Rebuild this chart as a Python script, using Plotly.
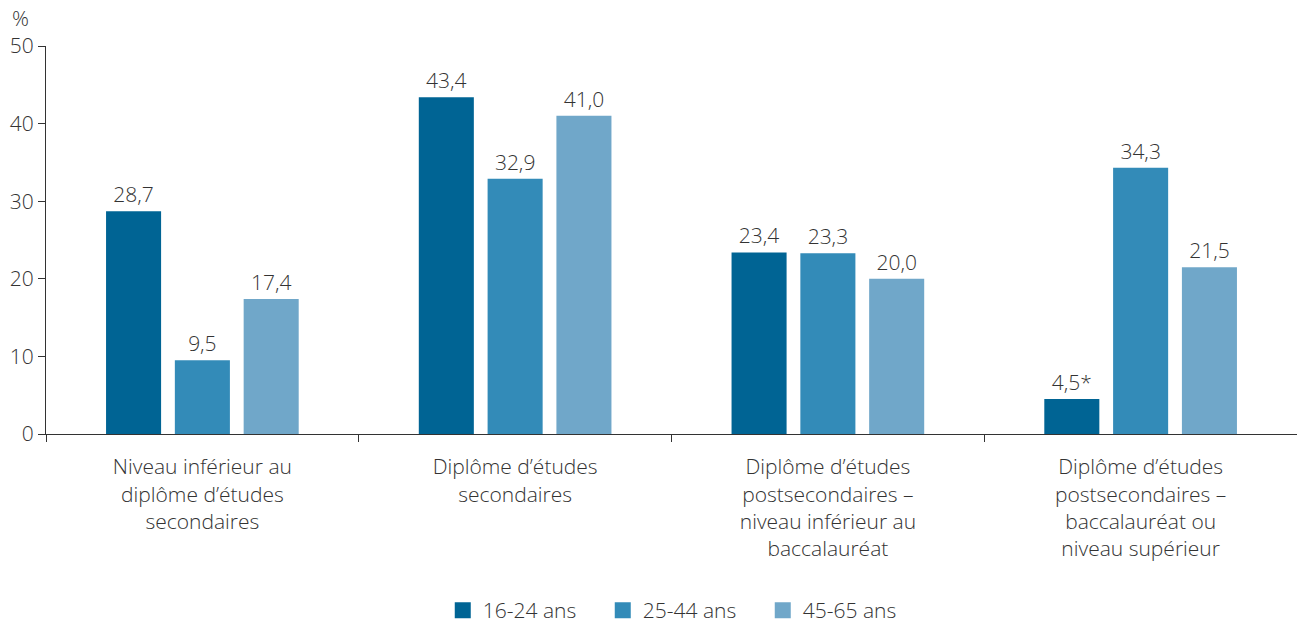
import plotly.graph_objects as go

categories = [
    "Niveau inférieur au<br>diplôme d’études<br>secondaires",
    "Diplôme d’études<br>secondaires",
    "Diplôme d’études<br>postsecondaires –<br>niveau inférieur au<br>baccalauréat",
    "Diplôme d’études<br>postsecondaires –<br>baccalauréat ou<br>niveau supérieur",
]
series_names = ["16-24 ans", "25-44 ans", "45-65 ans"]
values_16_24 = [28.7, 43.4, 23.4, 4.5]
values_25_44 = [9.5, 32.9, 23.3, 34.3]
values_45_65 = [17.4, 41.0, 20.0, 21.5]
labels_16_24 = ["28,7", "43,4", "23,4", "4,5*"]
labels_25_44 = ["9,5", "32,9", "23,3", "34,3"]
labels_45_65 = ["17,4", "41,0", "20,0", "21,5"]
colors = ["#006494", "#338bb8", "#70a7c9"]
y_ticks = [0, 10, 20, 30, 40, 50]

FONT = "Open Sans"
TXT = "#333333"
FS = 21

fig = go.Figure()
for name, vals, labs, col in zip(series_names,
                                 [values_16_24, values_25_44, values_45_65],
                                 [labels_16_24, labels_25_44, labels_45_65],
                                 colors):
    fig.add_trace(go.Bar(
        x=categories, y=vals, name=name, marker_color=col,
        marker_line_width=0, showlegend=False,
        text=labs, textposition="outside", cliponaxis=False,
        textfont=dict(family=FONT, size=FS, color=TXT, weight=300),
    ))
# legend entries with larger square symbols
for name, col in zip(series_names, colors):
    fig.add_trace(go.Scatter(
        x=[None], y=[None], mode="markers", name=name,
        marker=dict(symbol="square", size=16, color=col),
        showlegend=True,
    ))

fig.update_layout(
    width=1297, height=623,
    margin=dict(l=46, r=0, t=46, b=189, autoexpand=False),
    paper_bgcolor="white", plot_bgcolor="white",
    barmode="group", bargap=0.34, bargroupgap=0.2,
    font=dict(family=FONT, size=FS, color=TXT, weight=300),
    showlegend=True,
    legend=dict(orientation="h", x=0.509, xanchor="center", y=-0.455, yanchor="middle",
                font=dict(family=FONT, size=FS, color=TXT, weight=300),
                itemwidth=30, traceorder="normal",
                entrywidth=115, entrywidthmode="pixels"),
)
fig.update_xaxes(
    type="category", range=[-0.5, 3.5], automargin=False,
    showline=True, linecolor="#333333", linewidth=1,
    ticks="outside", tickson="boundaries", ticklen=7, tickcolor="#333333",
    ticklabelstandoff=14,
    showgrid=False, tickfont=dict(family=FONT, size=FS, color=TXT, weight=300),
)
fig.update_yaxes(
    range=[0, 50], tickvals=y_ticks, automargin=False,
    showline=True, linecolor="#333333", linewidth=1,
    ticks="outside", ticklen=7, tickcolor="#333333",
    showgrid=False, zeroline=False,
    tickfont=dict(family=FONT, size=FS, color=TXT, weight=300),
)
fig.add_annotation(text="%", xref="paper", yref="paper", x=-0.029, y=1.03,
                   xanchor="left", yanchor="bottom", showarrow=False,
                   font=dict(family=FONT, size=FS, color=TXT, weight=300))

fig.write_html("out.html")
